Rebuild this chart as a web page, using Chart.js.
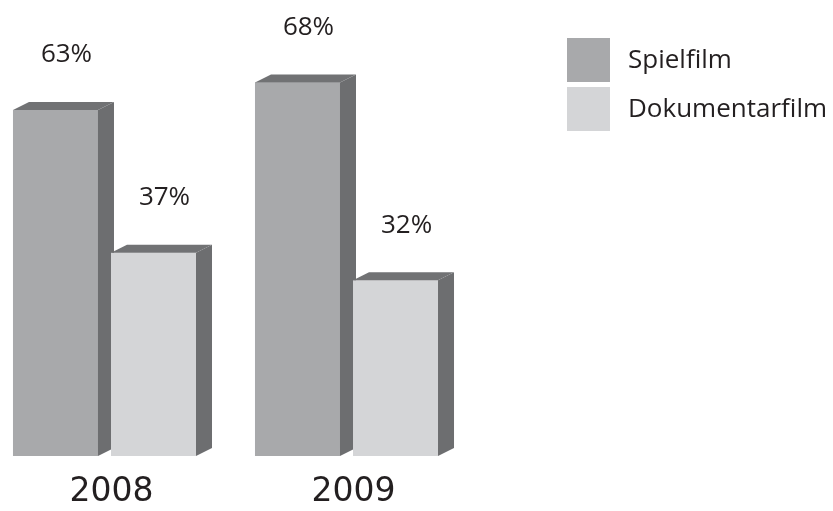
<!DOCTYPE html>
<html lang="de">
<head>
<meta charset="UTF-8">
<title>Spielfilm und Dokumentarfilm 2008/2009</title>
<script src="https://cdn.jsdelivr.net/npm/chart.js@4/dist/chart.umd.min.js"></script>
<style>
  html, body { margin: 0; padding: 0; background: #fff; }
  canvas { display: block; }
</style>
</head>
<body>
<canvas id="filme" width="833" height="511"></canvas>
<script>
// Anteile in Prozent je Jahr
const years = ['2008', '2009'];
const spielfilm = [63, 68];
const dokumentarfilm = [37, 32];
const seriesNames = ['Spielfilm', 'Dokumentarfilm'];

const FRONT = ['#a8a9ab', '#d4d5d7'];
const SIDE = '#6d6e70';
const TOP = '#717274';
const INK = '#231f20';
const DEPTH_X = 16, DEPTH_Y = 8;

// Quader-Optik: Front neu zeichnen, dann Seite und Deckel, danach die Prozentwerte
const bars3d = {
  id: 'bars3d',
  afterDatasetsDraw(chart) {
    const ctx = chart.ctx;
    ctx.save();
    chart.data.datasets.forEach((ds, di) => {
      chart.getDatasetMeta(di).data.forEach((bar, i) => {
        bar.draw(ctx);
        const l = bar.x - bar.width / 2, r = bar.x + bar.width / 2;
        const t = bar.y, b = bar.base;

        ctx.fillStyle = SIDE;
        ctx.beginPath();
        ctx.moveTo(r, t);
        ctx.lineTo(r + DEPTH_X, t - DEPTH_Y);
        ctx.lineTo(r + DEPTH_X, b - DEPTH_Y);
        ctx.lineTo(r, b);
        ctx.closePath();
        ctx.fill();

        ctx.fillStyle = TOP;
        ctx.beginPath();
        ctx.moveTo(l, t);
        ctx.lineTo(l + DEPTH_X, t - DEPTH_Y);
        ctx.lineTo(r + DEPTH_X, t - DEPTH_Y);
        ctx.lineTo(r, t);
        ctx.closePath();
        ctx.fill();

        ctx.fillStyle = INK;
        ctx.font = '26px "Open Sans"';
        ctx.textAlign = 'center';
        ctx.textBaseline = 'middle';
        ctx.fillText(ds.data[i].y + '%', bar.x + 11, t - 55);
      });
    });
    ctx.restore();
  }
};

// Legende oben rechts
const sideLegend = {
  id: 'sideLegend',
  afterDraw(chart) {
    const ctx = chart.ctx;
    ctx.save();
    ctx.font = '26px "Open Sans"';
    ctx.textAlign = 'left';
    ctx.textBaseline = 'middle';
    chart.data.datasets.forEach((ds, i) => {
      const y = 38 + i * 49;
      ctx.fillStyle = ds.backgroundColor;
      ctx.fillRect(567, y, 43, 44);
      ctx.fillStyle = INK;
      ctx.fillText(ds.label, 628, y + 23);
    });
    ctx.restore();
  }
};

const toPoints = arr => arr.map((v, i) => ({ x: i, y: v }));

new Chart(document.getElementById('filme'), {
  type: 'bar',
  data: {
    datasets: [
      { label: seriesNames[0], data: toPoints(spielfilm), backgroundColor: FRONT[0] },
      { label: seriesNames[1], data: toPoints(dokumentarfilm), backgroundColor: FRONT[1] }
    ]
  },
  options: {
    responsive: false,
    animation: false,
    layout: { padding: { left: 0, right: 273, top: 0, bottom: 0 } },
    datasets: {
      bar: { categoryPercentage: 0.81, barPercentage: 0.8673, borderWidth: 0 }
    },
    plugins: { legend: { display: false }, tooltip: { enabled: false } },
    scales: {
      x: {
        type: 'linear',
        offset: false,
        min: -0.4318,
        max: 1.8822,
        grid: { display: false, drawTicks: false },
        border: { display: false },
        afterBuildTicks: axis => { axis.ticks = years.map((_, i) => ({ value: i })); },
        afterFit: axis => { axis.height = 55; },
        ticks: {
          callback: v => years[v],
          font: { family: 'DejaVu Sans', size: 33 },
          color: INK,
          padding: 17,
          labelOffset: 7,
          maxRotation: 0,
          autoSkip: false
        }
      },
      y: { display: false, min: 0, max: 83 }
    }
  },
  plugins: [bars3d, sideLegend]
});
</script>
</body>
</html>
